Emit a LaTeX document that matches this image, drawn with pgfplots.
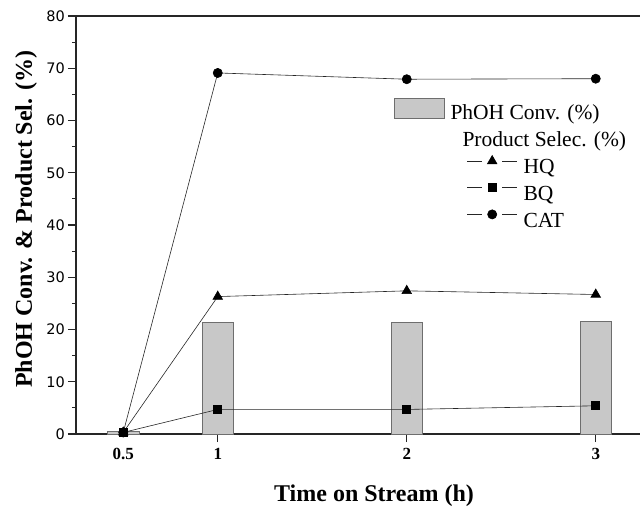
\documentclass[border=0pt]{standalone}
\usepackage{fontspec}
\setmainfont{Liberation Serif}
\newfontfamily\dejavuf{DejaVu Sans}
\usepackage{pgfplots}
\pgfplotsset{compat=1.18}
\definecolor{barfill}{RGB}{200,200,200}
\definecolor{baredge}{RGB}{110,110,110}
\begin{document}
\begin{tikzpicture}
\begin{axis}[
  scale only axis, width=595.35pt, height=418pt,
  xmin=0.25, xmax=3.4, ymin=0, ymax=80,
  axis line style={line width=1.6pt, black!85},
  xtick={1,2,3}, extra x ticks={0.5}, extra x tick style={major tick style={draw=none}},
  ytick={0,10,...,80}, minor y tick num=1,
  tick align=outside, xtick pos=left, ytick pos=left,
  major tick length=8pt, minor tick length=4pt,
  tick style={line width=1.1pt, black!85},
  /pgf/number format/assume math mode=true,
  xticklabel style={font=\fontsize{17}{17}\selectfont\bfseries, yshift=-3pt},
  yticklabel={\dejavuf\fontsize{14.5}{17}\selectfont\pgfmathprintnumber{\tick}},
  yticklabel style={font=\dejavuf\fontsize{14.5}{17}\selectfont, inner sep=3pt},
  xlabel={Time on Stream (h)},
  ylabel={PhOH Conv. \& Product Sel. (\%)},
  xlabel style={font=\fontsize{24}{24}\selectfont\bfseries, at={([yshift=-67pt]axis description cs:0.5006,0)}, anchor=base},
  ylabel style={font=\fontsize{24}{24}\selectfont\bfseries, at={([xshift=-44pt]axis description cs:0,0.514)}, anchor=base},
  legend cell align=left,
  legend style={draw=none, fill=none, at={(axis description cs:0.5286,0.81)}, anchor=north west,
    font=\fontsize{21.5}{22}\selectfont, row sep=6pt,
    /tikz/every odd column/.append style={column sep=4pt}},
]
\addplot[ybar, bar width=0.165, bar shift=0pt, fill=barfill, draw=baredge, line width=0.6pt,
  legend image code/.code={\draw[fill=barfill, draw=baredge, line width=0.6pt] (-73pt,-5pt) rectangle (-23pt,15pt);}]
  coordinates {(0.5,0.5) (1,21.4) (2,21.4) (3,21.5)};
\addlegendentry{\hspace*{-73pt}PhOH Conv. (\%)}
\addlegendimage{empty legend}
\addlegendentry{\hspace*{-61pt}Product Selec. (\%)}
\pgfplotsset{legend image code/.code={%
  \draw[#1, mark=none] (0pt,6.5pt) -- (15pt,6.5pt);
  \draw[#1, mark=none] (35pt,6.5pt) -- (50pt,6.5pt);
  \draw[#1, only marks] plot coordinates {(25pt,6.5pt)};}}
\addplot[black!85, line width=0.6pt, mark=triangle*, mark size=5.5pt, mark options={black, solid}]
  coordinates {(0.5,0.3) (1,26.3) (2,27.4) (3,26.7)};
\addlegendentry{HQ}
\addplot[black!85, line width=0.6pt, mark=square*, mark size=4pt, mark options={black, solid}]
  coordinates {(0.5,0.3) (1,4.7) (2,4.7) (3,5.4)};
\addlegendentry{BQ}
\addplot[black!85, line width=0.6pt, mark=*, mark size=4.6pt, mark options={black, solid}]
  coordinates {(0.5,0.3) (1,69.1) (2,67.9) (3,68.0)};
\addlegendentry{CAT}
\end{axis}
\pgfresetboundingbox
\path ([xshift=-76pt,yshift=-73pt]current axis.south west) rectangle ++(640pt,507pt);
\end{tikzpicture}
\end{document}
